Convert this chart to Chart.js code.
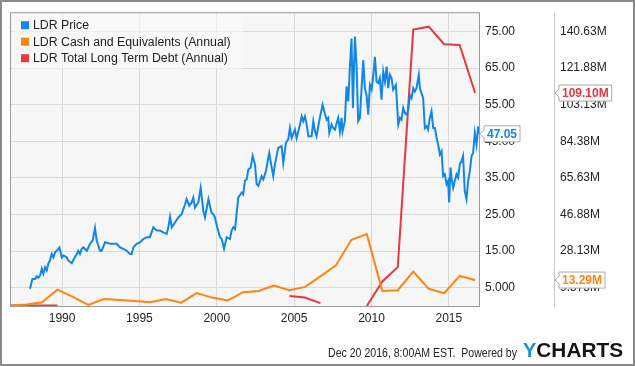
<html lang="en">
<head>
    <meta charset="UTF-8">
    <title>LDR Price, Cash and Debt</title>
    <script src="https://cdn.jsdelivr.net/npm/chart.js"></script>
    <style>
        html, body { margin: 0; padding: 0; background: #fff; }
        #wrap { width: 635px; height: 366px; position: relative; }
    </style>
</head>
<body>
    <div id="wrap"><canvas id="ldrChart" width="635" height="366"></canvas></div>

    <script>
        // --- data ---
        // price: [decimal year, USD]
        const priceDates = [
            1987.93, 1988.08, 1988.26, 1988.37, 1988.47, 1988.58, 1988.69, 1988.79, 1988.90, 1989.01,
            1989.12, 1989.22, 1989.33, 1989.44, 1989.55, 1989.66, 1989.83, 1989.98, 1990.09, 1990.30,
            1990.41, 1990.63, 1990.73, 1990.95, 1991.05, 1991.16, 1991.27, 1991.38, 1991.60, 1991.81,
            1991.98, 1992.13, 1992.24, 1992.45, 1992.56, 1992.78, 1993.10, 1993.53, 1993.75, 1993.96,
            1994.18, 1994.39, 1994.50, 1994.61, 1994.82, 1995.04, 1995.25, 1995.47, 1995.68, 1995.90,
            1996.12, 1996.33, 1996.54, 1996.76, 1996.87, 1996.98, 1997.09, 1997.30, 1997.51, 1997.73,
            1997.95, 1998.05, 1998.22, 1998.38, 1998.48, 1998.59, 1998.81, 1998.96, 1999.13, 1999.24,
            1999.46, 1999.66, 1999.77, 1999.88, 2000.03, 2000.21, 2000.32, 2000.47, 2000.64, 2000.85,
            2000.96, 2001.07, 2001.18, 2001.39, 2001.61, 2001.71, 2001.82, 2001.93, 2002.04, 2002.19,
            2002.32, 2002.47, 2002.58, 2002.69, 2002.90, 2003.01, 2003.18, 2003.39, 2003.55, 2003.65,
            2003.76, 2003.97, 2004.19, 2004.30, 2004.47, 2004.62, 2004.73, 2004.84, 2005.05, 2005.16,
            2005.33, 2005.49, 2005.59, 2005.70, 2005.81, 2005.92, 2006.13, 2006.24, 2006.35, 2006.45,
            2006.62, 2006.84, 2006.99, 2007.10, 2007.20, 2007.27, 2007.42, 2007.53, 2007.64, 2007.75,
            2007.85, 2007.96, 2008.07, 2008.13, 2008.28, 2008.39, 2008.50, 2008.60, 2008.71, 2008.80,
            2008.93, 2009.04, 2009.14, 2009.25, 2009.36, 2009.47, 2009.57, 2009.68, 2009.79, 2009.90,
            2010.01, 2010.12, 2010.22, 2010.33, 2010.44, 2010.54, 2010.65, 2010.76, 2010.87, 2010.98,
            2011.08, 2011.19, 2011.30, 2011.40, 2011.58, 2011.73, 2011.84, 2011.94, 2012.05, 2012.16,
            2012.27, 2012.38, 2012.48, 2012.59, 2012.70, 2012.80, 2012.91, 2013.06, 2013.13, 2013.34,
            2013.45, 2013.56, 2013.66, 2013.77, 2013.88, 2013.99, 2014.10, 2014.21, 2014.31, 2014.42,
            2014.53, 2014.63, 2014.74, 2014.85, 2014.95, 2015.02, 2015.11, 2015.17, 2015.28, 2015.39,
            2015.50, 2015.60, 2015.71, 2015.82, 2015.92, 2016.03, 2016.14, 2016.25, 2016.36, 2016.47,
            2016.57, 2016.68, 2016.79, 2016.90, 2016.95
        ];
        const priceValues = [
            4.7, 7.4, 7.4, 8.1, 7.7, 8.3, 10.2, 8.8, 10.6, 9.7,
            11.7, 12.4, 14.2, 13.3, 14.7, 15.1, 16.0, 13.3, 13.8, 13.3,
            12.4, 11.7, 12.6, 14.2, 15.1, 14.2, 15.6, 16.0, 15.1, 17.0,
            17.9, 21.3, 17.9, 15.1, 15.1, 17.4, 17.0, 17.0, 16.0, 15.6,
            15.1, 14.2, 14.2, 16.0, 17.0, 17.4, 18.3, 18.8, 18.8, 21.5,
            20.6, 20.6, 20.1, 19.7, 21.5, 24.4, 21.5, 22.8, 24.2, 25.1,
            27.8, 29.2, 27.4, 28.3, 29.6, 26.9, 28.3, 32.3, 26.0, 24.2,
            29.2, 25.5, 25.1, 24.2, 21.5, 18.8, 18.3, 15.6, 18.8, 18.3,
            20.6, 21.5, 21.0, 29.6, 31.0, 30.5, 34.2, 34.6, 37.3, 37.8,
            41.0, 38.7, 33.3, 32.8, 35.5, 34.6, 36.9, 41.8, 37.8, 35.5,
            38.7, 43.2, 43.7, 39.1, 44.6, 45.5, 48.6, 45.9, 48.2, 45.9,
            48.6, 51.8, 50.5, 51.8, 49.6, 46.4, 46.4, 50.5, 47.7, 46.4,
            50.5, 55.0, 52.5, 50.9, 51.4, 47.3, 49.6, 48.6, 48.2, 50.0,
            51.4, 47.7, 51.4, 47.7, 50.5, 60.0, 55.9, 65.0, 73.1, 54.1,
            73.6, 65.0, 50.5, 51.4, 59.5, 67.2, 59.5, 57.7, 52.3, 60.4,
            59.1, 63.2, 68.1, 61.3, 60.9, 62.2, 56.4, 64.0, 61.3, 65.4,
            59.5, 63.2, 62.2, 59.1, 60.4, 49.6, 51.4, 50.9, 54.1, 52.7,
            52.3, 53.6, 57.7, 56.8, 59.5, 58.6, 59.5, 63.2, 59.5, 56.8,
            48.6, 49.1, 48.2, 51.4, 53.2, 48.6, 48.6, 45.9, 44.1, 41.4,
            42.3, 35.5, 36.0, 33.3, 34.2, 28.3, 37.8, 35.1, 32.3, 34.2,
            36.0, 35.1, 38.7, 39.6, 41.0, 31.4, 29.2, 34.2, 36.9, 41.0,
            41.8, 47.3, 44.1, 49.1, 47.05
        ];

        // annual (fiscal year end) figures, millions USD
        const fiscalDates = [
            1986.7, 1987.7, 1988.7, 1989.7, 1990.7, 1991.7, 1992.7, 1993.7, 1994.7, 1995.7,
            1996.7, 1997.7, 1998.7, 1999.7, 2000.7, 2001.7, 2002.7, 2003.7, 2004.7, 2005.7,
            2006.7, 2007.7, 2008.7, 2009.7, 2010.7, 2011.7, 2012.7, 2013.7, 2014.7, 2015.7,
            2016.7
        ];
        const cashValues = [
            0.2, 0.75, 1.9, 8.4, 4.7, 0.6, 3.6, 3.1, 2.5, 1.9,
            3.6, 1.7, 6.6, 4.3, 2.8, 7.1, 7.7, 10.5, 8.1, 9.8,
            15.2, 20.8, 33.9, 36.8, 7.7, 8.1, 17.6, 8.8, 6.6, 15.4,
            13.29
        ];
        const debtValues = [
            0.3, 0.3, 0.3, 0.3, null, null, null, null, null, null,
            null, null, null, null, null, null, null, null, 5.1, 4.3,
            1.5, null, null, 0, 12.6, 19.9, 141.6, 143.1, 134.1, 133.7,
            109.1
        ];

        const yearTicks = [1990, 1995, 2000, 2005, 2010, 2015];
        const priceTicks = [5, 15, 25, 35, 45, 55, 65, 75];
        const priceTickLabels = ['5.000', '15.00', '25.00', '35.00', '45.00', '55.00', '65.00', '75.00'];
        const millionTicks = [9.375, 28.125, 46.875, 65.625, 84.375, 103.125, 121.875, 140.625];
        const millionTickLabels = ['9.375M', '28.13M', '46.88M', '65.63M', '84.38M', '103.13M', '121.88M', '140.63M'];

        const seriesNames = ['LDR Price', 'LDR Cash and Equivalents (Annual)', 'LDR Total Long Term Debt (Annual)'];
        const endLabels = ['47.05', '13.29M', '109.10M'];

        const BLUE = '#1086e8';
        const ORANGE = '#ff8412';
        const RED = '#e8383d';
        const FONT = 'Arial, "Liberation Sans", sans-serif';

        Chart.defaults.font.family = FONT;
        Chart.defaults.font.size = 12;
        Chart.defaults.color = '#222';

        const toPoints = (xs, ys) => xs.map((x, i) => ({ x: x, y: ys[i] }));

        // draws text squeezed/stretched to a given width
        const fitText = (ctx, text, x, y, width) => {
            const w = ctx.measureText(text).width;
            ctx.save();
            ctx.translate(x, y);
            ctx.scale(width / w, 1);
            ctx.fillText(text, 0, 0);
            ctx.restore();
        };

        // background, frame, legend, end labels and footer
        const ychartsDecor = {
            id: 'ychartsDecor',
            beforeDraw(chart) {
                const { ctx, chartArea: a } = chart;
                ctx.save();
                ctx.fillStyle = '#fff';
                ctx.fillRect(0, 0, chart.width, chart.height);
                ctx.fillStyle = '#f6f6f6';
                ctx.fillRect(a.left, a.top, a.right - a.left, a.bottom - a.top);
                ctx.restore();
            },
            afterDatasetsDraw(chart) {
                const { ctx, chartArea: a } = chart;
                ctx.save();
                // legend box
                ctx.fillStyle = 'rgba(250,250,250,0.6)';
                ctx.fillRect(a.left + 1, a.top + 1, 231, 55);
                const colors = [BLUE, ORANGE, RED];
                ctx.font = '12.3px ' + FONT;
                ctx.textBaseline = 'middle';
                seriesNames.forEach((name, i) => {
                    const y = a.top + 12 + i * 16.5;
                    ctx.fillStyle = colors[i];
                    ctx.fillRect(a.left + 10, y - 4, 8, 8);
                    ctx.fillStyle = '#222';
                    ctx.fillText(name, a.left + 22, y + 0.5);
                });
                // plot frame
                ctx.strokeStyle = '#9a9a9a';
                ctx.lineWidth = 1;
                ctx.strokeRect(a.left - 0.5, a.top - 0.5, a.right - a.left + 1, a.bottom - a.top + 1);
                ctx.restore();
            },
            afterDraw(chart) {
                const { ctx } = chart;
                const yP = chart.scales.y, yM = chart.scales.yM;
                ctx.save();
                const callout = (x, y, text, color) => {
                    ctx.font = 'bold 12px ' + FONT;
                    const w = ctx.measureText(text).width + 6;
                    const h = 16, bx = x + 4;
                    ctx.beginPath();
                    ctx.moveTo(x, y);
                    ctx.lineTo(bx, y - 4);
                    ctx.lineTo(bx, y - h / 2);
                    ctx.lineTo(bx + w, y - h / 2);
                    ctx.lineTo(bx + w, y + h / 2);
                    ctx.lineTo(bx, y + h / 2);
                    ctx.lineTo(bx, y + 4);
                    ctx.closePath();
                    ctx.fillStyle = '#fff';
                    ctx.fill();
                    ctx.strokeStyle = '#aaa';
                    ctx.lineWidth = 1;
                    ctx.stroke();
                    ctx.fillStyle = color;
                    ctx.textBaseline = 'middle';
                    ctx.textAlign = 'left';
                    ctx.fillText(text, bx + 3, y + 1);
                };
                callout(yP.left + 1, yP.getPixelForValue(priceValues[priceValues.length - 1]), endLabels[0], BLUE);
                callout(yM.left + 1, yM.getPixelForValue(debtValues[debtValues.length - 1]), endLabels[2], RED);
                callout(yM.left + 1, yM.getPixelForValue(cashValues[cashValues.length - 1]), endLabels[1], ORANGE);

                // footer
                ctx.font = '12px ' + FONT;
                ctx.fillStyle = '#222';
                ctx.textAlign = 'left';
                ctx.textBaseline = 'alphabetic';
                fitText(ctx, 'Dec 20 2016, 8:00AM EST.  Powered by', 328, 357, 189);
                ctx.font = 'bold 20px ' + FONT;
                ctx.fillStyle = '#1a8fdc';
                ctx.fillText('Y', 523, 357);
                const yw = ctx.measureText('Y').width;
                ctx.fillStyle = '#151515';
                fitText(ctx, 'CHARTS', 523 + yw, 357, 100 - yw);

                // outer border
                ctx.strokeStyle = '#8a8a8a';
                ctx.lineWidth = 2;
                ctx.strokeRect(1, 1, chart.width - 2, chart.height - 2);
                ctx.restore();
            }
        };

        new Chart(document.getElementById('ldrChart').getContext('2d'), {
            type: 'line',
            data: {
                datasets: [{
                    label: seriesNames[0],
                    data: toPoints(priceDates, priceValues),
                    yAxisID: 'y',
                    borderColor: BLUE,
                    borderWidth: 2,
                    pointRadius: 0,
                    tension: 0
                }, {
                    label: seriesNames[1],
                    data: toPoints(fiscalDates, cashValues),
                    yAxisID: 'yM',
                    borderColor: ORANGE,
                    borderWidth: 2,
                    pointRadius: 0,
                    tension: 0
                }, {
                    label: seriesNames[2],
                    data: toPoints(fiscalDates, debtValues),
                    yAxisID: 'yM',
                    borderColor: RED,
                    borderWidth: 2,
                    pointRadius: 0,
                    tension: 0,
                    spanGaps: false
                }]
            },
            options: {
                responsive: false,
                animation: false,
                layout: { padding: { left: 11, top: 12, right: 0, bottom: 30 } },
                plugins: { legend: { display: false }, tooltip: { enabled: false } },
                scales: {
                    x: {
                        type: 'linear',
                        min: 1986.7,
                        max: 2016.95,
                        afterBuildTicks: s => { s.ticks = yearTicks.map(v => ({ value: v })); },
                        afterFit: s => { s.height = 30; },
                        ticks: { callback: v => String(v), padding: 5, maxRotation: 0, autoSkip: false, color: '#222' },
                        grid: { color: '#d9d9d9', drawTicks: false },
                        border: { color: '#9a9a9a' }
                    },
                    y: {
                        position: 'right',
                        weight: 0,
                        min: 0,
                        max: 80,
                        afterBuildTicks: s => { s.ticks = priceTicks.map(v => ({ value: v })); },
                        afterFit: s => { s.width = 75; },
                        ticks: { callback: (v, i) => priceTickLabels[i], padding: 6, color: '#222' },
                        grid: { color: '#d9d9d9', drawTicks: false },
                        border: { color: '#9a9a9a' }
                    },
                    yM: {
                        position: 'right',
                        weight: 1,
                        min: 0,
                        max: 150,
                        afterBuildTicks: s => { s.ticks = millionTicks.map(v => ({ value: v })); },
                        afterFit: s => { s.width = 81; },
                        ticks: { callback: (v, i) => millionTickLabels[i], padding: 6, color: '#222' },
                        grid: { color: 'rgba(0,0,0,0)', drawTicks: false },
                        border: { color: '#c8c8c8' }
                    }
                }
            },
            plugins: [ychartsDecor]
        });
    </script>
</body>
</html>
